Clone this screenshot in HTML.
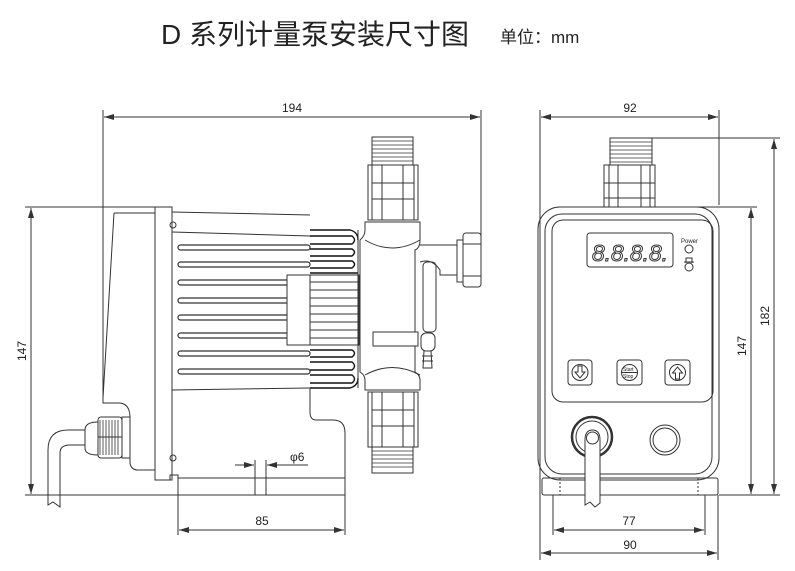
<!DOCTYPE html>
<html><head><meta charset="utf-8"><style>
html,body{margin:0;padding:0;background:#fff;}
svg{display:block;}
text{font-family:"Liberation Sans","Noto Sans CJK SC",sans-serif;fill:#222;}
</style></head><body>
<svg width="795" height="571" viewBox="0 0 795 571" xmlns="http://www.w3.org/2000/svg">
<defs>
<marker id="a" viewBox="0 0 10 6" refX="10" refY="3" markerWidth="10" markerHeight="6" orient="auto-start-reverse" markerUnits="userSpaceOnUse"><path d="M0,0 L10,3 L0,6 Z" fill="#333"/></marker>
</defs>
<text x="161" y="44" font-size="28">D 系列计量泵安装尺寸图</text>
<text x="500" y="43" font-size="17">单位：mm</text>

<g stroke="#333" stroke-width="1" fill="none">
<!-- LEFT VIEW dims -->
<line x1="103" y1="110" x2="103" y2="400"/>
<line x1="481" y1="110" x2="481" y2="262"/>
<line x1="104" y1="117" x2="480" y2="117" marker-start="url(#a)" marker-end="url(#a)"/>
<line x1="25" y1="207" x2="165" y2="207"/>
<line x1="25" y1="495" x2="345" y2="495"/>
<line x1="31" y1="208" x2="31" y2="494" marker-start="url(#a)" marker-end="url(#a)"/>
<line x1="178" y1="495" x2="178" y2="535"/>
<line x1="345" y1="495" x2="345" y2="535"/>
<line x1="179" y1="530" x2="344" y2="530" marker-start="url(#a)" marker-end="url(#a)"/>
<line x1="255" y1="460" x2="255" y2="495"/>
<line x1="266" y1="460" x2="266" y2="495"/>
<line x1="235" y1="465" x2="254" y2="465" marker-end="url(#a)"/>
<line x1="308" y1="465" x2="267" y2="465" marker-end="url(#a)"/>

<!-- back cover -->
<path d="M114,213 L155,213 M114,213 L103,398 L103,403 L120,403 Q130,404 130,418 L130,463 Q131,470 138,470 L155,470"/>
<!-- flange -->
<rect x="155" y="207" width="17" height="273"/>
<circle cx="173" cy="225" r="3"/><circle cx="173" cy="458" r="3"/>
<!-- motor -->
<path d="M172,212 L310,215 M172,232 L310,236 M172,390 L310,388"/>
<g stroke-width="1.2">
<rect x="178" y="245" width="132" height="5" rx="2.5"/>
<rect x="178" y="262" width="132" height="5" rx="2.5"/>
<rect x="178" y="280" width="132" height="5" rx="2.5"/>
<rect x="178" y="298" width="180" height="5" rx="2.5"/>
<rect x="178" y="315" width="180" height="5" rx="2.5"/>
<rect x="178" y="333" width="180" height="5" rx="2.5"/>
<rect x="178" y="351" width="132" height="5" rx="2.5"/>
<rect x="178" y="369" width="132" height="5" rx="2.5"/>
</g>
<rect x="287" y="275" width="72" height="70" fill="#fff"/>
<line x1="310" y1="275" x2="310" y2="345"/>
<path d="M310,282 H358 M310,290 H358 M310,298 H358 M310,306 H358 M310,314 H358 M310,322 H358 M310,330 H358 M310,338 H358"/>
<!-- serrated fins -->
<g stroke="#111" stroke-width="1.4">
<path d="M310,230 H350 Q358,232 358,240 M310,236 H352 Q357,240 352,244 H310 M310,249 H352 Q357,252 352,256 H310 M310,261 H352 Q357,264 352,268 H310 M310,273 H358"/>
<path d="M310,350 H352 Q357,353 352,357 H310 M310,362 H352 Q357,366 352,370 H310 M310,375 H352 Q357,379 352,383 H310 M310,388 H350 Q358,386 358,378"/>
</g>
<line x1="358" y1="230" x2="358" y2="388"/>
<!-- pump head -->
<path d="M365,222 H420 V240 Q420,248 415,250 V372 Q420,375 420,380 V390 H365 V380 Q365,375 360,372 V240 Q365,236 365,230 Z" fill="#fff"/>
<path d="M365,240 Q392,256 420,240 M365,375 Q392,360 420,375"/>
<rect x="373" y="332" width="45" height="14" fill="#fff"/>
<!-- top valve -->
<rect x="372" y="137" width="41" height="28"/>
<path d="M372,141 H413 M372,145 H413 M372,149 H413 M372,153 H413 M372,157 H413 M372,161 H413" stroke-width="0.8"/>
<rect x="368" y="165" width="50" height="55"/>
<path d="M372,165 V220 M414,165 V220 M382,165 V220 M403,165 V220 M372,183 H414 M372,199 H414"/>
<!-- bottom valve -->
<rect x="368" y="392" width="50" height="55"/>
<path d="M372,392 V447 M414,392 V447 M382,392 V447 M403,392 V447 M372,410 H414 M372,426 H414"/>
<rect x="372" y="447" width="41" height="26"/>
<path d="M372,451 H413 M372,455 H413 M372,459 H413 M372,463 H413 M372,467 H413" stroke-width="0.8"/>
<!-- right fitting -->
<path d="M420,245 H457 V275 H440 V270 Q432,258 420,262"/>
<rect x="423" y="262" width="13" height="70" rx="4"/>
<rect x="457" y="240" width="6" height="42"/>
<rect x="463" y="233" width="18" height="54" rx="3"/>
<path d="M463,244 H481 M463,276 H481"/>
<!-- barb -->
<rect x="421" y="333" width="14" height="18" rx="5"/>
<path d="M424,351 L423,368 H432 L431,351 M422,356 H433 M422,361 H433"/>
<!-- base side -->
<path d="M170,480 V475 H178 V495 M178,478 H345 M345,495 V433 Q345,420 333,420 H316 Q310,420 310,412 V388"/>
<!-- gland & cable -->
<rect x="98" y="417" width="24" height="41" rx="3"/>
<rect x="122" y="417" width="8" height="41"/>
<line x1="98" y1="437" x2="122" y2="437"/>
<path d="M100,420 V455 M103,420 V455 M106,420 V455 M109,420 V455 M112,420 V455 M115,420 V455 M118,420 V455" stroke-width="0.8"/>
<path d="M98,422 Q85,422 85,430 V448 Q85,455 98,455"/>
<path d="M85,430 H68 Q48,430 48,450 V505 L53,502 L60,507 V453 Q60,445 70,445 H85"/>

<!-- RIGHT VIEW dims -->
<line x1="540" y1="110" x2="540" y2="560"/>
<line x1="719" y1="110" x2="719" y2="205"/>
<line x1="541" y1="117" x2="718" y2="117" marker-start="url(#a)" marker-end="url(#a)"/>
<line x1="615" y1="138" x2="780" y2="138"/>
<line x1="695" y1="207" x2="757" y2="207"/>
<line x1="719" y1="495" x2="780" y2="495"/>
<line x1="774" y1="139" x2="774" y2="494" marker-start="url(#a)" marker-end="url(#a)"/>
<line x1="751" y1="208" x2="751" y2="494" marker-start="url(#a)" marker-end="url(#a)"/>
<line x1="553" y1="495" x2="553" y2="535"/>
<line x1="705" y1="495" x2="705" y2="535"/>
<line x1="718" y1="495" x2="718" y2="560"/>
<line x1="554" y1="530" x2="704" y2="530" marker-start="url(#a)" marker-end="url(#a)"/>
<line x1="541" y1="553" x2="717" y2="553" marker-start="url(#a)" marker-end="url(#a)"/>
<!-- top thread/valve -->
<rect x="610" y="138" width="42" height="27"/>
<path d="M610,142 H652 M610,146 H652 M610,150 H652 M610,154 H652 M610,158 H652 M610,162 H652" stroke-width="0.8"/>
<rect x="604" y="165" width="51" height="42"/>
<path d="M609,165 V207 M650,165 V207 M618,165 V207 M641,165 V207 M604,183 H655 M604,198 H655"/>
<!-- housing -->
<rect x="538" y="207" width="181" height="273" rx="22"/>
<rect x="545" y="214" width="167" height="260" rx="17"/>
<rect x="552" y="220" width="161" height="182" rx="11"/>
<rect x="587" y="233" width="86" height="34" rx="3"/>
<circle cx="689" cy="249" r="4"/>
<circle cx="689" cy="267" r="4"/>
<path d="M686,263 V258 H692 V263 M684,262 H694"/>
<rect x="568" y="360" width="24" height="25" rx="3"/>
<circle cx="580" cy="372.5" r="8"/>
<path d="M578,366 V372 H575 L580,378 L585,372 H582 V366 Z"/>
<rect x="617" y="360" width="25" height="25" rx="3"/>
<circle cx="629.5" cy="372.5" r="8"/>
<line x1="622" y1="372.5" x2="637" y2="372.5"/>
<rect x="665" y="360" width="25" height="25" rx="3"/>
<circle cx="677.5" cy="372.5" r="8"/>
<path d="M675.5,379 V373 H672.5 L677.5,367 L682.5,373 H679.5 V379 Z"/>
<!-- gland & button -->
<circle cx="592" cy="437" r="20" stroke-width="2.5"/>
<circle cx="592" cy="437" r="16"/>
<circle cx="665" cy="440" r="15"/>
<circle cx="665" cy="440" r="12"/>
<!-- base -->
<rect x="542" y="478" width="176" height="17" rx="2"/>
<path d="M560,478 V495 M698,478 V495" stroke-dasharray="2,2"/>
<path d="M585,440 V505 L590,502 L595,507 L600,503 V440 Q600,430 592.5,430 Q585,430 585,440" fill="#fff"/>
<circle cx="592.5" cy="438" r="6"/>
</g>
<text x="592" y="261" font-size="23" font-style="italic" style="fill:none;stroke:#333;stroke-width:1" textLength="76" lengthAdjust="spacingAndGlyphs">8.8.8.8.</text>
<text x="681" y="243" font-size="6">Power</text>
<text x="623" y="371" font-size="5">Start</text>
<text x="623" y="378" font-size="5">Stop</text>

<text x="292" y="112" font-size="12" text-anchor="middle">194</text>
<text x="262" y="525" font-size="12" text-anchor="middle">85</text>
<text x="290" y="461" font-size="12">φ6</text>
<text transform="translate(26,351) rotate(-90)" font-size="12" text-anchor="middle">147</text>
<text x="630" y="112" font-size="12" text-anchor="middle">92</text>
<text x="629" y="525" font-size="12" text-anchor="middle">77</text>
<text x="630" y="549" font-size="12" text-anchor="middle">90</text>
<text transform="translate(746,346) rotate(-90)" font-size="12" text-anchor="middle">147</text>
<text transform="translate(769,316) rotate(-90)" font-size="12" text-anchor="middle">182</text>
</svg>
</body></html>
